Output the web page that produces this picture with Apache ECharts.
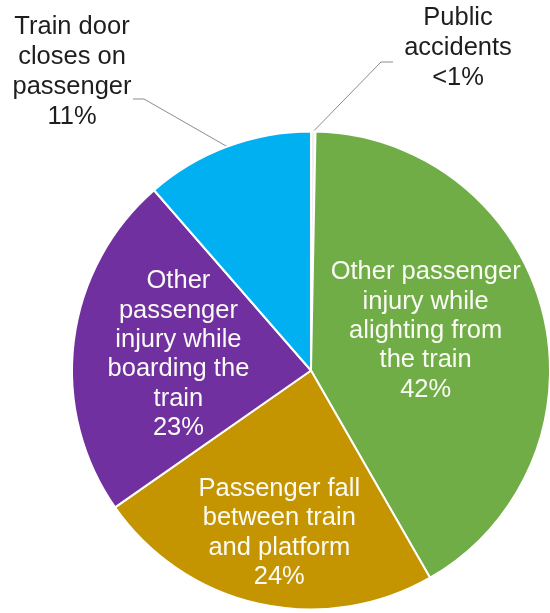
<!DOCTYPE html>
<html>
<head>
<meta charset="utf-8">
<script src="https://cdn.jsdelivr.net/npm/echarts@6/dist/echarts.min.js"></script>
<style>
html,body{margin:0;padding:0;background:#fff;}
#chart{width:550px;height:613px;}
</style>
</head>
<body>
<div id="chart"></div>
<script>
const categories = [
  'Public accidents',
  'Other passenger injury while alighting from the train',
  'Passenger fall between train and platform',
  'Other passenger injury while boarding the train',
  'Train door closes on passenger'
];
const labelTexts = [
  'Public\naccidents',
  'Other passenger\ninjury while\nalighting from\nthe train',
  'Passenger fall\nbetween train\nand platform',
  'Other\npassenger\ninjury while\nboarding the\ntrain',
  'Train door\ncloses on\npassenger'
];
const values = [0.3, 41.4, 23.6, 23.3, 11.4];
const pctLabels = ['<1%', '42%', '24%', '23%', '11%'];
const colors = ['#f0f0f0', '#70AD47', '#C49500', '#7030A0', '#00B0F0'];
const inside = [false, true, true, true, false];

const chart = echarts.init(document.getElementById('chart'), null, {renderer: 'canvas'});

const data = categories.map((name, i) => ({
  name: name,
  value: values[i],
  itemStyle: {color: colors[i]},
  label: inside[i] ? {
    position: 'inside',
    color: '#fbfbf5',
    lineHeight: 29.3,
    formatter: labelTexts[i] + '\n' + pctLabels[i]
  } : {
    position: 'outside',
    color: '#1e1e1e',
    lineHeight: 30,
    formatter: labelTexts[i] + '\n' + pctLabels[i]
  },
  labelLine: {show: !inside[i]}
}));

// label placement (layout only)
const layouts = [
  {x: 458, y: 48, align: 'center', verticalAlign: 'middle', bend: [381, 62], end: [393, 62]},
  {dx: -4, dy: -9},
  {dx: -5, dy: 43},
  {dx: -11, dy: -1},
  {x: 72, y: 72, align: 'center', verticalAlign: 'middle', bend: [144, 99], end: [133, 99]}
];

chart.setOption({
  animation: false,
  backgroundColor: '#ffffff',
  series: [{
    type: 'pie',
    center: [311, 370.5],
    radius: 239,
    startAngle: 90,
    clockwise: true,
    avoidLabelOverlap: false,
    data: data,
    itemStyle: {borderColor: '#ffffff', borderWidth: 2},
    label: {
      fontFamily: 'Liberation Sans, Arial, sans-serif',
      fontSize: 25.5,
      align: 'center'
    },
    labelLine: {
      show: true,
      length: 20,
      length2: 10,
      lineStyle: {color: '#8c8c8c', width: 1}
    },
    labelLayout: function (params) {
      const l = layouts[params.dataIndex];
      const out = {};
      ['x', 'y', 'dx', 'dy', 'align', 'verticalAlign'].forEach(k => { if (l[k] !== undefined) out[k] = l[k]; });
      if (l.bend && params.labelLinePoints && params.labelLinePoints.length) {
        const p0 = params.labelLinePoints[0];
        out.labelLinePoints = [[p0[0], p0[1]], l.bend, l.end];
      }
      return out;
    }
  }]
});
</script>
</body>
</html>
